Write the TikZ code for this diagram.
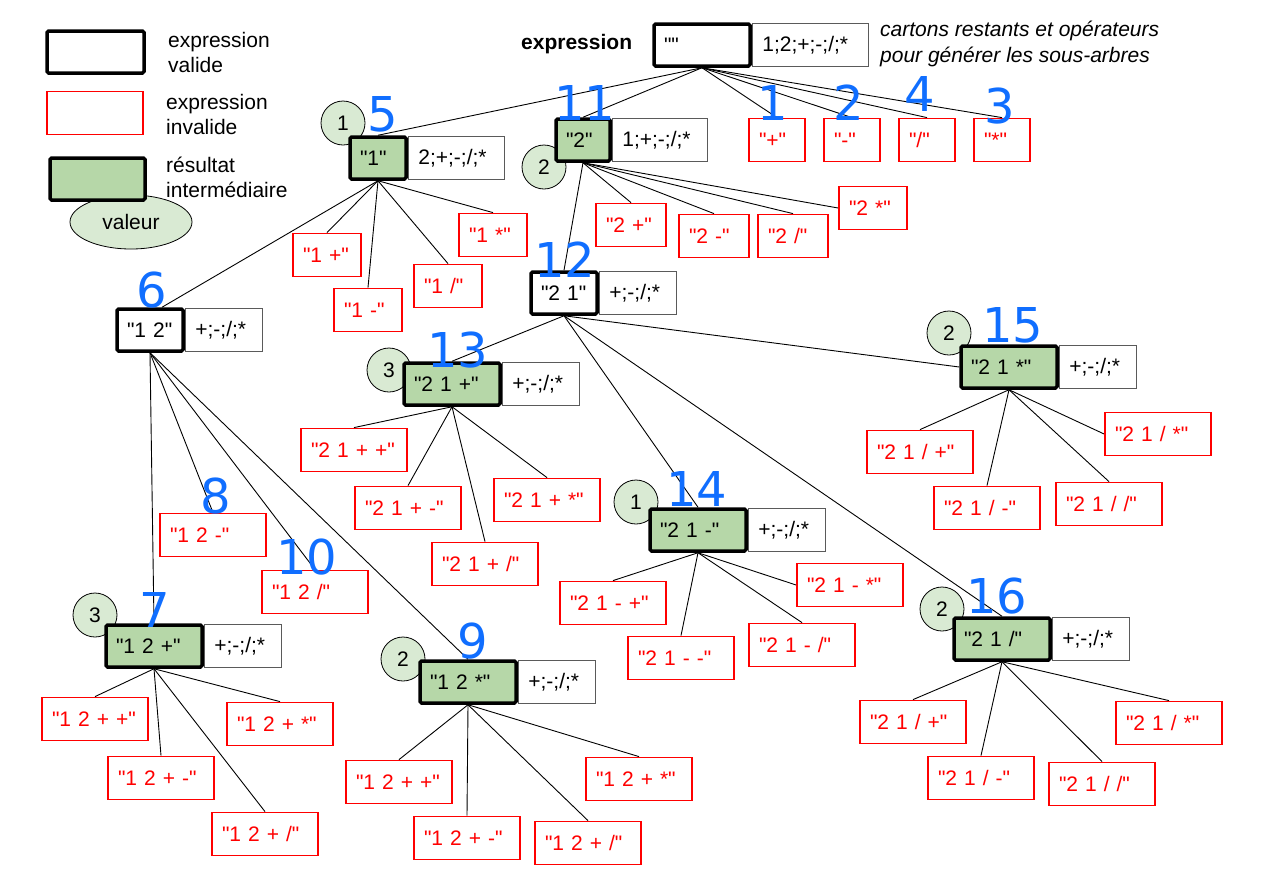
\documentclass[tikz,border=0pt]{standalone}
\usepackage{fontspec}
\setmainfont{Liberation Sans}
\newfontfamily\arial{Liberation Sans}
\newfontfamily\numfont{DejaVu Sans}
\usetikzlibrary{positioning, backgrounds, shapes.geometric}

\definecolor{vert}{RGB}{182,215,168}
\definecolor{vertclair}{RGB}{217,234,211}
\definecolor{gris}{RGB}{90,90,90}
\definecolor{bleu}{RGB}{16,110,255}

\begin{document}
\begin{tikzpicture}[x=1pt, y=-1pt,
        every node/.style = {font=\arial\fontsize{21}{25}\selectfont},
        carton/.style   = {rectangle, text width=#1, align=left, inner xsep=10pt, inner ysep=0pt},
        valide/.style   = {carton=#1, draw, line width=3.5pt, rounded corners=1.5pt, fill=white, minimum height=42pt},
        resultat/.style = {valide=#1, fill=vert},
        invalide/.style = {carton=#1, draw=red, text=red, line width=1.8pt, fill=white, minimum height=43pt},
        ops/.style      = {carton=#1, draw=gris, line width=1.2pt, fill=white, minimum height=43pt},
        valide/.default=76pt, resultat/.default=76pt, invalide/.default=86pt, ops/.default=57pt,
        valeur/.style   = {circle, draw, line width=0.8pt, fill=vertclair, minimum size=44pt, inner sep=0pt},
        numero/.style   = {text=bleu, font=\numfont\fontsize{48}{48}\selectfont, inner sep=0pt},
        legende/.style  = {anchor=west, align=left, inner sep=0pt},
        lien/.style     = {draw, line width=0.9pt},
        node distance=0pt]

    \useasboundingbox (0,0) rectangle (1264,892);

    % legend
    \node[valeur, ellipse, minimum width=122pt, minimum height=54pt] (legval) at (131,222) {valeur};
    \node[valide=77pt] (legvalide) at (95.5,52) {};
    \node[invalide=76pt] (leginvalide) at (95,113) {};
    \node[resultat=75pt] (legresultat) at (97.5,179) {};
    \node[legende] (txtvalide) at (168,52) {expression\\valide};
    \node[legende] (txtinvalide) at (166,114) {expression\\invalide};
    \node[legende] (txtresultat) at (166,177) {résultat\\intermédiaire};

    % values of the intermediate results
    \node[valeur] (c5) at (343,123) {1};
    \node[valeur] (c11) at (544,167) {2};
    \node[valeur] (c7) at (95,615) {3};
    \node[valeur] (c9) at (403,659) {2};
    \node[valeur] (c13) at (389,370) {3};
    \node[valeur] (c14) at (636,502) {1};
    \node[valeur] (c15) at (949,333) {2};
    \node[valeur] (c16) at (942,609) {2};

    % root
    \node[legende, font=\arial\bfseries\fontsize{21}{25}\selectfont] (titre) at (521,44) {expression};
    \node[valide] (n0) at (702,45) {""};
    \node[ops=96pt, right=of n0] (n0ops) {1;2;+;-;/;*};
    \node[legende, font=\arial\itshape\fontsize{21}{26}\selectfont] (note) at (880,44) {cartons restants et opérateurs\\pour générer les sous-arbres};

    \node[invalide=36pt] (n0a) at (777,140) {"+"};
    \node[invalide=36pt] (n0b) at (852,140) {"-"};
    \node[invalide=36pt] (n0c) at (927,140) {"/"};
    \node[invalide=36pt] (n0d) at (1002,140) {"*"};

    % first level
    \node[resultat=36pt] (n5) at (378,158) {"1"};
    \node[ops=76pt, right=of n5] (n5ops) {2;+;-;/;*};
    \node[resultat=34pt] (n11) at (583,140) {"2"};
    \node[ops=75pt, right=of n11] (n11ops) {1;+;-;/;*};

    \node[invalide=48pt] (n5a) at (327,255) {"1 +"};
    \node[invalide=48pt] (n5b) at (368,310) {"1 -"};
    \node[invalide=48pt] (n5c) at (448,286) {"1 /"};
    \node[invalide=48pt] (n5d) at (493,235) {"1 *"};

    \node[invalide=50pt] (n11a) at (631,225) {"2 +"};
    \node[invalide=50pt] (n11b) at (714,236) {"2 -"};
    \node[invalide=50pt] (n11c) at (793,236) {"2 /"};
    \node[invalide=48pt] (n11d) at (873,208) {"2 *"};

    % second level
    \node[valide=46pt] (n6) at (150,330) {"1 2"};
    \node[ops, right=of n6] (n6ops) {+;-;/;*};
    \node[valide=46pt] (n12) at (564,293) {"2 1"};
    \node[ops, right=of n12] (n12ops) {+;-;/;*};

    \node[invalide] (n6a) at (213,535) {"1 2 -"};
    \node[invalide] (n6b) at (315,592) {"1 2 /"};

    % third level
    \node[resultat] (n7) at (154,646) {"1 2 +"};
    \node[ops, right=of n7] (n7ops) {+;-;/;*};
    \node[invalide] (n7a) at (95,719) {"1 2 + +"};
    \node[invalide] (n7b) at (161,778) {"1 2 + -"};
    \node[invalide] (n7c) at (265,834) {"1 2 + /"};
    \node[invalide] (n7d) at (280,724) {"1 2 + *"};

    \node[resultat] (n9) at (468,682) {"1 2 *"};
    \node[ops, right=of n9] (n9ops) {+;-;/;*};
    \node[invalide] (n9a) at (399,782) {"1 2 + +"};
    \node[invalide] (n9b) at (467,838) {"1 2 + -"};
    \node[invalide] (n9c) at (588,843) {"1 2 + /"};
    \node[invalide] (n9d) at (639,779) {"1 2 + *"};

    \node[resultat] (n13) at (452,384) {"2 1 +"};
    \node[ops, right=of n13] (n13ops) {+;-;/;*};
    \node[invalide] (n13a) at (354,450) {"2 1 + +"};
    \node[invalide] (n13b) at (408,508) {"2 1 + -"};
    \node[invalide] (n13c) at (485,564) {"2 1 + /"};
    \node[invalide] (n13d) at (547,500) {"2 1 + *"};

    \node[resultat] (n14) at (698,530) {"2 1 -"};
    \node[ops, right=of n14] (n14ops) {+;-;/;*};
    \node[invalide] (n14a) at (613,603) {"2 1 - +"};
    \node[invalide] (n14b) at (681,658) {"2 1 - -"};
    \node[invalide] (n14c) at (802,645) {"2 1 - /"};
    \node[invalide] (n14d) at (850,585) {"2 1 - *"};

    \node[resultat] (n15) at (1009,367) {"2 1 *"};
    \node[ops, right=of n15] (n15ops) {+;-;/;*};
    \node[invalide] (n15a) at (920,452) {"2 1 / +"};
    \node[invalide] (n15b) at (987,508) {"2 1 / -"};
    \node[invalide] (n15c) at (1109,504) {"2 1 / /"};
    \node[invalide] (n15d) at (1158,434) {"2 1 / *"};

    \node[resultat] (n16) at (1002,639) {"2 1 /"};
    \node[ops, right=of n16] (n16ops) {+;-;/;*};
    \node[invalide] (n16a) at (913,722) {"2 1 / +"};
    \node[invalide] (n16b) at (981,778) {"2 1 / -"};
    \node[invalide] (n16c) at (1102,784) {"2 1 / /"};
    \node[invalide] (n16d) at (1169,723) {"2 1 / *"};

    % lines from each node to its sub-trees
    \begin{scope}[on background layer]
    \foreach \k in {a,b,c,d}
        \draw[lien] (n0.south) -- (n0\k.north);
    \draw[lien] (n0.south) -- (n5.north);
    \draw[lien] (n0.south) -- (n11.north);

    \foreach \k in {a,b,c,d}
        \draw[lien] (n5.south) -- (n5\k.north);
    \draw[lien] (n5.south) -- ([xshift=12pt]n6.north);

    \foreach \k in {a,b,c}
        \draw[lien] (n11.south) -- (n11\k.north);
    \draw[lien] (n11.south) -- (n11d.west);
    \draw[lien] (n11.south) -- (n12.north);

    \foreach \k in {7,9,6a,6b}
        \draw[lien] (n6.south) -- (n\k.north);

    \foreach \k in {13,14,16}
        \draw[lien] (n12.south) -- (n\k.north);
    \draw[lien] (n12.south) -- (n15.west);

    \foreach \p in {7,9,13,16}
        \foreach \k in {a,b,c,d}
            \draw[lien] (n\p.south) -- (n\p\k.north);

    \foreach \p in {14,15} {
        \foreach \k in {a,b,c}
            \draw[lien] (n\p.south) -- (n\p\k.north);
        \draw[lien] (n\p.south) -- (n\p d.west);
    }
    \end{scope}

    % order of the search
    \node[numero] (o1) at (773,103) {1};
    \node[numero] (o2) at (849,103) {2};
    \node[numero] (o3) at (1000,106) {3};
    \node[numero] (o4) at (920,94) {4};
    \node[numero] (o5) at (383,114) {5};
    \node[numero] (o6) at (152,290) {6};
    \node[numero] (o7) at (155,610) {7};
    \node[numero] (o8) at (216,496) {8};
    \node[numero] (o9) at (473,641) {9};
    \node[numero] (o10) at (307,557) {10};
    \node[numero] (o11) at (585,103) {11};
    \node[numero] (o12) at (565,260) {12};
    \node[numero] (o13) at (458,350) {13};
    \node[numero] (o14) at (697,489) {14};
    \node[numero] (o15) at (1013,325) {15};
    \node[numero] (o16) at (997,596) {16};

\end{tikzpicture}
\end{document}
